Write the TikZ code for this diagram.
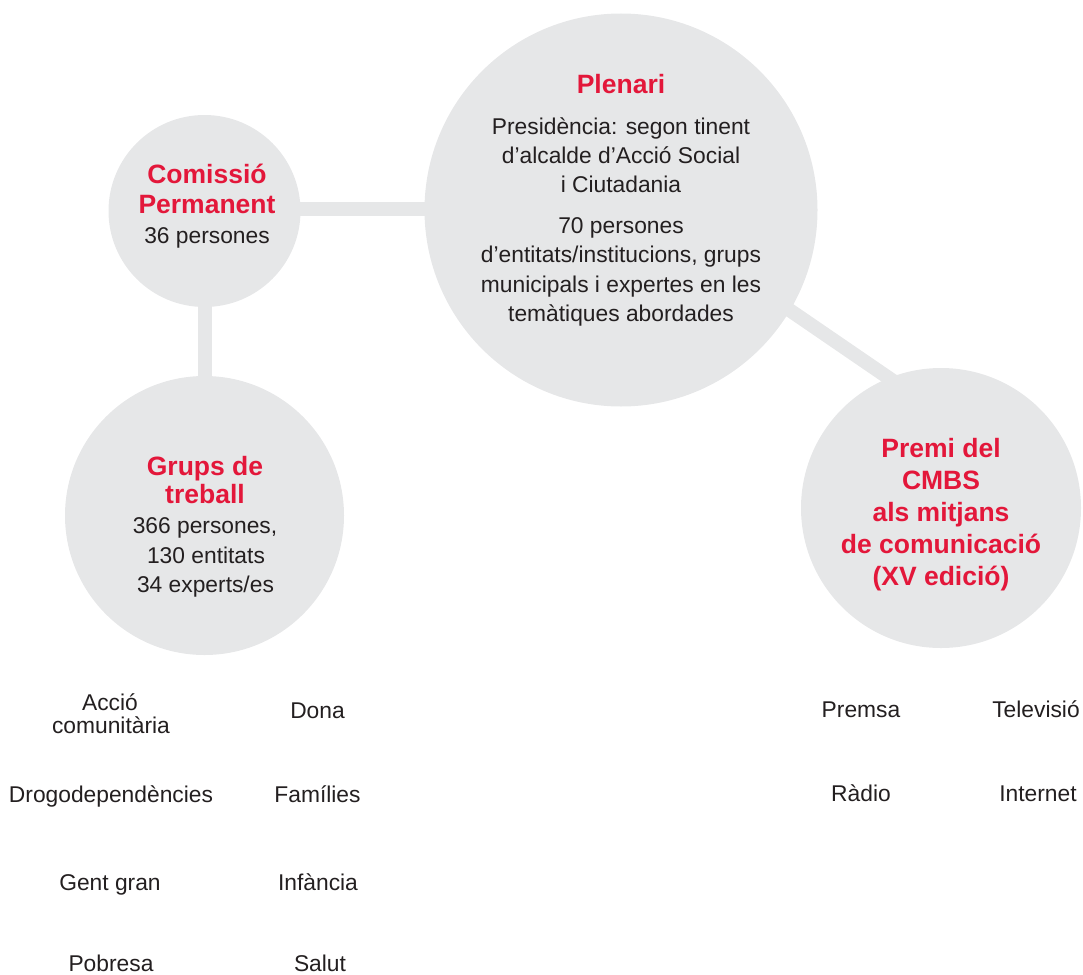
\documentclass[tikz,border=0pt]{standalone}
\usepackage{fontspec}
\setmainfont{Liberation Sans}
\usetikzlibrary{backgrounds}
\definecolor{bubgray}{HTML}{E6E7E8}
\definecolor{cmred}{HTML}{E3173A}
\definecolor{txtdark}{HTML}{231F20}
\begin{document}
\begin{tikzpicture}[x=1pt,y=-1pt,
  bub/.style={circle,fill=bubgray,inner sep=0pt,draw=none},
  conn/.style={draw=bubgray,line width=14pt},
  ttl/.style={anchor=base,inner sep=0pt,text=cmred,font=\fontsize{26.5}{30}\selectfont\bfseries},
  lbl/.style={anchor=base,inner sep=0pt,text=txtdark,font=\fontsize{22.8}{28}\selectfont}]
\useasboundingbox (0,0) rectangle (1083,974);
% circles
\node[bub,minimum size=192pt] (comissio) at (204.5,211) {};
\node[bub,minimum size=393pt] (plenari) at (621,210) {};
\node[bub,minimum size=279pt] (grups) at (204.5,515.5) {};
\node[bub,minimum size=280pt] (premi) at (941,508) {};
% connectors behind circles
\begin{scope}[on background layer]
\draw[conn] ([yshift=2pt]comissio.center) -- ([yshift=1pt]plenari.center);
\draw[conn] (comissio.center) -- (grups.center);
\draw[conn] ([shift={(84.5,42.5)}]plenari.center) -- ([shift={(12,-86)}]premi.center);
\end{scope}
% Comissio text
\node[ttl] (c1) at (207,183) {Comissió};
\node[ttl] (c2) at (207,213) {Permanent};
\node[lbl] (c3) at (207,243) {36 persones};
% Plenari text
\node[ttl] (p0) at (621,93) {Plenari};
\node[lbl] (p1) at (621,134) {Presidència: segon tinent};
\node[lbl] (p2) at (621,163) {d’alcalde d’Acció Social};
\node[lbl] (p3) at (621,192) {i Ciutadania};
\node[lbl] (p4) at (621,233) {70 persones};
\node[lbl] (p5) at (621,262) {d’entitats/institucions, grups};
\node[lbl] (p6) at (621,292) {municipals i expertes en les};
\node[lbl] (p7) at (621,321) {temàtiques abordades};
% Grups text
\node[ttl] (g1) at (205,475) {Grups de};
\node[ttl] (g2) at (205,503) {treball};
\node[lbl] (g3) at (205,533) {366 persones,};
\node[lbl] (g4) at (206,563) {130 entitats};
\node[lbl] (g5) at (205.5,592) {34 experts/es};
% Premi text
\node[ttl] (r1) at (941,457) {Premi del};
\node[ttl] (r2) at (941,489) {CMBS};
\node[ttl] (r3) at (941,521) {als mitjans};
\node[ttl] (r4) at (941,553) {de comunicació};
\node[ttl] (r5) at (941,585) {(XV edició)};
% Grups topics
\node[lbl] (t1a) at (110,710) {Acció};
\node[lbl] (t1b) at (111,733) {comunitària};
\node[lbl] (t2) at (317.5,718) {Dona};
\node[lbl] (t3) at (111,802) {Drogodependències};
\node[lbl] (t4) at (317.5,802) {Famílies};
\node[lbl] (t5) at (110,890) {Gent gran};
\node[lbl] (t6) at (318,890) {Infància};
\node[lbl] (t7) at (111,971) {Pobresa};
\node[lbl] (t8) at (320,971) {Salut};
% Premi categories
\node[lbl] (m1) at (861,717) {Premsa};
\node[lbl] (m2) at (1036,717) {Televisió};
\node[lbl] (m3) at (861,801) {Ràdio};
\node[lbl] (m4) at (1038,801) {Internet};
\end{tikzpicture}
\end{document}
